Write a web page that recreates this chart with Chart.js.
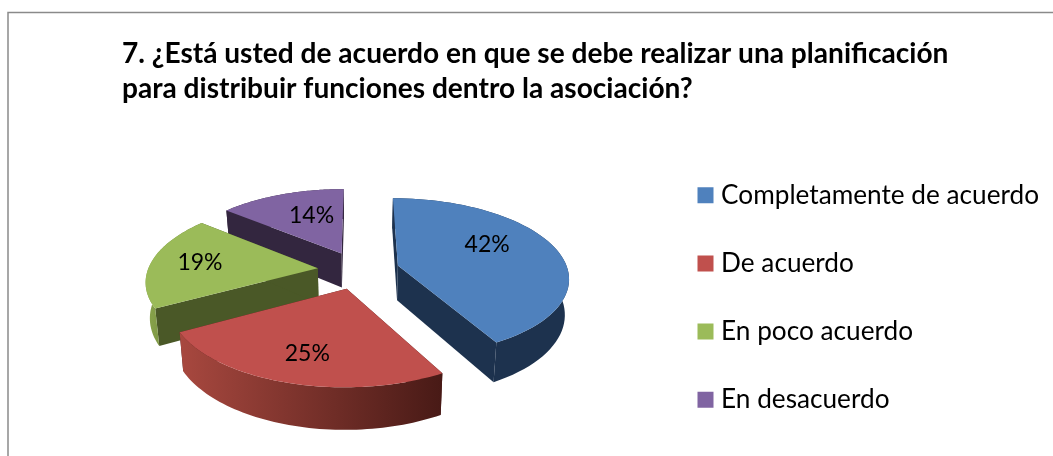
<!DOCTYPE html>
<html><head><meta charset="utf-8">
<script src="https://cdn.jsdelivr.net/npm/chart.js@4"></script>
<style>html,body{margin:0;padding:0;background:#fff}#w{position:relative;width:1053px;height:456px}</style>
</head><body><div id="w"><canvas id="c" width="1053" height="456"></canvas></div>
<script>
const titleLines = ["7. ¿Está usted de acuerdo en que se debe realizar una planificación", "para distribuir funciones dentro la asociación?"];
const categories = ["Completamente de acuerdo", "De acuerdo", "En poco acuerdo", "En desacuerdo"];
const values = [42, 25, 19, 14];
const colors = ["#4f81bd", "#c0504d", "#9bbb59", "#8064a2"];
const faceColors = ["#1d324e", "#4a1c18", "#4a5827", "#33263f"];
const outerGrad = [["#1d324e", "#1d324e"], ["#a8483f", "#481a16"], ["#8aa54c", "#5e7431"], ["#33263f", "#33263f"]];
const labelNudge = [[2, -11], [-9, 17], [-26, -2], [5, -4]];

const R = 170, SQ = 0.46, PERSP = 0.00085, DEPTH = 35, TAPER = 0.98, FONT = "Lato, Carlito, sans-serif";

function project(a, cx, cy, ang, r) {
  const off = a.options.offset, mid = (a.startAngle + a.endAngle) / 2;
  const u = off * Math.cos(mid) + r * Math.cos(ang), v = off * Math.sin(mid) + r * Math.sin(ang);
  const w = 1 - PERSP * v;
  return { x: cx + u / w, y: cy + SQ * v / w, d: DEPTH / w };
}
function outline(a) {
  const pts = [], n = 60;
  for (let i = 0; i <= n; i++) pts.push(project(a, a.x, a.y, a.startAngle + (a.endAngle - a.startAngle) * i / n, R));
  return pts;
}
function poly(ctx, pts) { ctx.beginPath(); pts.forEach((p, i) => i ? ctx.lineTo(p.x, p.y) : ctx.moveTo(p.x, p.y)); ctx.closePath(); }

const pie3d = {
  id: "pie3d",
  afterLayout(chart) {
    chart.titleBlock.left = 122; chart.titleBlock.right = 1040;
    const l = chart.legend; l.left = 661; l.right = 1053; l.top += 80.5; l.bottom += 80.5;
    chart.getDatasetMeta(0).data.forEach(a => {
      if (a._p3) return; a._p3 = true;
      a.draw = function (ctx) {
        const o = outline(this), ap = project(this, this.x, this.y, 0, 0);
        ctx.save(); ctx.fillStyle = this.options.backgroundColor; poly(ctx, [ap, ...o]); ctx.fill(); ctx.restore();
      };
    });
  },
  beforeDraw(chart) {
    const c = chart.ctx; c.save(); c.fillStyle = "#fff"; c.fillRect(0, 0, 1053, 456);
    c.strokeStyle = "#8a8a8a"; c.lineWidth = 1.5; c.strokeRect(8, 12.5, 1200, 600); c.restore();
  },
  beforeDatasetsDraw(chart) {
    const c = chart.ctx, arcs = chart.getDatasetMeta(0).data;
    [3, 2, 0, 1].forEach(i => {
      const a = arcs[i], o = outline(a), ap = project(a, a.x, a.y, 0, 0);
      const down = p => ({ x: a.x + (p.x - a.x) * TAPER, y: p.y + p.d });
      c.fillStyle = faceColors[i];
      poly(c, [ap, o[0], down(o[0]), down(ap)]); c.fill();
      const e = o[o.length - 1];
      poly(c, [ap, e, down(e), down(ap)]); c.fill();
      const xs = o.map(p => p.x), g = c.createLinearGradient(Math.min(...xs), 0, Math.max(...xs), 0);
      g.addColorStop(0, outerGrad[i][0]); g.addColorStop(1, outerGrad[i][1]);
      c.fillStyle = g;
      poly(c, [...o, ...o.slice().reverse().map(down)]); c.fill();
    });
  },
  afterDatasetsDraw(chart) {
    const c = chart.ctx, total = values.reduce((s, v) => s + v, 0);
    c.save(); c.fillStyle = "#000"; c.font = "23px " + FONT; c.textAlign = "center"; c.textBaseline = "middle";
    chart.getDatasetMeta(0).data.forEach((a, i) => {
      const p = project(a, a.x, a.y, (a.startAngle + a.endAngle) / 2, R * 0.55);
      c.fillText(Math.round(values[i] / total * 100) + "%", p.x + labelNudge[i][0], p.y + labelNudge[i][1]);
    });
    c.restore();
  }
};

new Chart(document.getElementById("c"), {
  type: "pie",
  data: { labels: categories, datasets: [{ data: values, backgroundColor: colors, borderWidth: 0, offset: 41 }] },
  options: {
    responsive: false, animation: false,
    layout: { padding: { left: 52, bottom: 22, top: 0, right: 0 } },
    plugins: {
      tooltip: { enabled: false },
      title: { display: true, text: titleLines, align: "start", color: "#000",
        font: { family: FONT, size: 28.1, weight: "bold", lineHeight: 1.25 }, padding: { top: 36, bottom: 0 } },
      legend: { position: "right", labels: { color: "#000", boxWidth: 5, boxHeight: 5, padding: 42,
        font: { family: FONT, size: 26.2 },
        generateLabels(chart) {
          return Chart.overrides.pie.plugins.legend.labels.generateLabels(chart).map(it => ({ ...it, strokeStyle: it.fillStyle, lineWidth: 11 }));
        } } }
    }
  },
  plugins: [pie3d]
});
</script></body></html>
